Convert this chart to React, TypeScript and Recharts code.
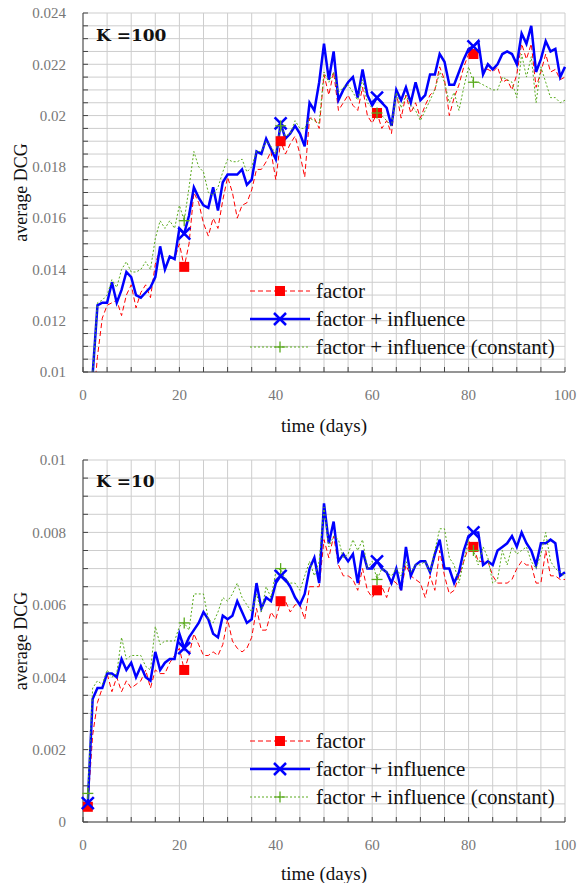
import React from 'react';
import { LineChart, Line, XAxis, YAxis, CartesianGrid, Legend } from 'recharts';

// K = 100 panel
const top100Factor = [
  0.0005, 0.0085, 0.0106, 0.0121, 0.0126, 0.0127, 0.0128, 0.0122, 0.0130, 0.0134,
  0.0125, 0.0131, 0.0134, 0.0129, 0.0142, 0.0148, 0.0140, 0.0145, 0.0144, 0.0150,
  0.0141, 0.0150, 0.0170, 0.0166, 0.0158, 0.0153, 0.0160, 0.0156, 0.0167, 0.0176,
  0.0170, 0.0160, 0.0165, 0.0166, 0.0171, 0.0179, 0.0179, 0.0182, 0.0186, 0.0175,
  0.0190, 0.0185, 0.0189, 0.0192, 0.0185, 0.0176, 0.0199, 0.0199, 0.0195, 0.0216,
  0.0208, 0.0217, 0.0202, 0.0205, 0.0208, 0.0204, 0.0202, 0.0211, 0.0200, 0.0197,
  0.0201, 0.0195, 0.0198, 0.0193, 0.0209, 0.0199, 0.0208, 0.0201, 0.0205, 0.0199,
  0.0204, 0.0208, 0.0210, 0.0219, 0.0214, 0.0200, 0.0207, 0.0212, 0.0219, 0.0224,
  0.0224, 0.0226, 0.0218, 0.0218, 0.0217, 0.0219, 0.0213, 0.0214, 0.0210, 0.0216,
  0.0228, 0.0222, 0.0228, 0.0211, 0.0217, 0.0224, 0.0217, 0.0218, 0.0214, 0.0215,
];
const top100Influence = [
  0.0005, 0.0099, 0.0126, 0.0127, 0.0127, 0.0135, 0.0127, 0.0132, 0.0139, 0.0137,
  0.0130, 0.0129, 0.0131, 0.0133, 0.0137, 0.0149, 0.0140, 0.0145, 0.0144, 0.0156,
  0.0154, 0.0161, 0.0172, 0.0168, 0.0165, 0.0164, 0.0172, 0.0163, 0.0174, 0.0177,
  0.0177, 0.0177, 0.0179, 0.0173, 0.0175, 0.0186, 0.0185, 0.0191, 0.0187, 0.0183,
  0.0197, 0.0191, 0.0193, 0.0196, 0.0193, 0.0188, 0.0205, 0.0202, 0.0213, 0.0228,
  0.0214, 0.0225, 0.0206, 0.0210, 0.0213, 0.0215, 0.0207, 0.0218, 0.0208, 0.0204,
  0.0207, 0.0205, 0.0203, 0.0196, 0.0210, 0.0206, 0.0211, 0.0205, 0.0213, 0.0206,
  0.0208, 0.0216, 0.0216, 0.0224, 0.0221, 0.0212, 0.0212, 0.0217, 0.0222, 0.0226,
  0.0227, 0.0229, 0.0216, 0.0220, 0.0218, 0.0220, 0.0224, 0.0225, 0.0224, 0.0220,
  0.0232, 0.0228, 0.0235, 0.0217, 0.0222, 0.0229, 0.0225, 0.0226, 0.0215, 0.0219,
];
const top100Constant = [
  0.0005, 0.0099, 0.0127, 0.0128, 0.0130, 0.0136, 0.0133, 0.0140, 0.0143, 0.0139,
  0.0139, 0.0140, 0.0143, 0.0140, 0.0152, 0.0159, 0.0156, 0.0159, 0.0156, 0.0165,
  0.0159, 0.0172, 0.0186, 0.0180, 0.0178, 0.0170, 0.0169, 0.0172, 0.0178, 0.0183,
  0.0182, 0.0182, 0.0183, 0.0178, 0.0180, 0.0186, 0.0186, 0.0190, 0.0188, 0.0185,
  0.0196, 0.0192, 0.0193, 0.0198, 0.0195, 0.0195, 0.0199, 0.0198, 0.0197, 0.0217,
  0.0213, 0.0217, 0.0209, 0.0211, 0.0212, 0.0209, 0.0206, 0.0214, 0.0205, 0.0203,
  0.0201, 0.0200, 0.0198, 0.0196, 0.0209, 0.0203, 0.0208, 0.0204, 0.0202, 0.0198,
  0.0202, 0.0206, 0.0210, 0.0217, 0.0213, 0.0205, 0.0209, 0.0202, 0.0211, 0.0219,
  0.0213, 0.0213, 0.0212, 0.0211, 0.0210, 0.0210, 0.0215, 0.0214, 0.0213, 0.0207,
  0.0224, 0.0215, 0.0223, 0.0205, 0.0219, 0.0213, 0.0207, 0.0207, 0.0205, 0.0206,
];

// K = 10 panel
const top10Factor = [
  0.00042, 0.0024, 0.0033, 0.0037, 0.0041, 0.0036, 0.0040, 0.0036, 0.0039, 0.0037,
  0.0038, 0.0039, 0.0042, 0.0037, 0.0042, 0.0041, 0.0041, 0.0044, 0.0046, 0.0048,
  0.0042, 0.0046, 0.0052, 0.0049, 0.0046, 0.0046, 0.0047, 0.0046, 0.0049, 0.0056,
  0.0050, 0.0048, 0.0047, 0.0048, 0.0051, 0.0059, 0.0053, 0.0053, 0.0058, 0.0056,
  0.0061, 0.0061, 0.0058, 0.0060, 0.0060, 0.0056, 0.0065, 0.0065, 0.0065, 0.0078,
  0.0073, 0.0079, 0.0071, 0.0068, 0.0068, 0.0067, 0.0064, 0.0070, 0.0064, 0.0062,
  0.0064, 0.0065, 0.0062, 0.0067, 0.0066, 0.0064, 0.0071, 0.0068, 0.0067, 0.0066,
  0.0062, 0.0068, 0.0064, 0.0075, 0.0068, 0.0063, 0.0064, 0.0068, 0.0072, 0.0076,
  0.0076, 0.0072, 0.0072, 0.0072, 0.0068, 0.0066, 0.0066, 0.0066, 0.0067, 0.0070,
  0.0072, 0.0071, 0.0071, 0.0066, 0.0066, 0.0075, 0.0068, 0.0068, 0.0067, 0.0067,
];
const top10Influence = [
  0.00052, 0.0034, 0.0037, 0.0037, 0.0041, 0.0041, 0.0040, 0.0045, 0.0042, 0.0044,
  0.0040, 0.0043, 0.0040, 0.0039, 0.0047, 0.0042, 0.0044, 0.0045, 0.0045, 0.0052,
  0.0048, 0.0051, 0.0053, 0.0055, 0.0058, 0.0056, 0.0052, 0.0051, 0.0057, 0.0056,
  0.0057, 0.0061, 0.0058, 0.0055, 0.0056, 0.0066, 0.0059, 0.0062, 0.0061, 0.0066,
  0.0068, 0.0067, 0.0065, 0.0062, 0.0060, 0.0063, 0.0070, 0.0073, 0.0066, 0.0088,
  0.0077, 0.0083, 0.0072, 0.0074, 0.0072, 0.0074, 0.0066, 0.0075, 0.0070, 0.0070,
  0.0072, 0.0070, 0.0069, 0.0066, 0.0070, 0.0064, 0.0076, 0.0068, 0.0071, 0.0072,
  0.0072, 0.0069, 0.0074, 0.0078, 0.0070, 0.0070, 0.0066, 0.0069, 0.0075, 0.0079,
  0.0080, 0.0080, 0.0071, 0.0072, 0.0071, 0.0075, 0.0076, 0.0077, 0.0079, 0.0076,
  0.0080, 0.0077, 0.0075, 0.0071, 0.0077, 0.0077, 0.0078, 0.0077, 0.0068, 0.0069,
];
const top10Constant = [
  0.00079, 0.0037, 0.0039, 0.0038, 0.0042, 0.0040, 0.0041, 0.0051, 0.0045, 0.0046,
  0.0046, 0.0046, 0.0043, 0.0042, 0.0054, 0.0049, 0.0050, 0.0050, 0.0050, 0.0054,
  0.0055, 0.0053, 0.0063, 0.0063, 0.0063, 0.0056, 0.0055, 0.0058, 0.0062, 0.0061,
  0.0063, 0.0066, 0.0062, 0.0060, 0.0058, 0.0063, 0.0058, 0.0065, 0.0062, 0.0069,
  0.0070, 0.0067, 0.0066, 0.0066, 0.0064, 0.0068, 0.0072, 0.0068, 0.0072, 0.0087,
  0.0076, 0.0079, 0.0078, 0.0073, 0.0074, 0.0078, 0.0075, 0.0078, 0.0070, 0.0072,
  0.0067, 0.0070, 0.0069, 0.0068, 0.0070, 0.0068, 0.0072, 0.0069, 0.0071, 0.0071,
  0.0072, 0.0069, 0.0075, 0.0081, 0.0081, 0.0073, 0.0071, 0.0066, 0.0072, 0.0078,
  0.0075, 0.0071, 0.0076, 0.0073, 0.0066, 0.0067, 0.0075, 0.0071, 0.0076, 0.0074,
  0.0075, 0.0076, 0.0072, 0.0070, 0.0074, 0.0080, 0.0072, 0.0070, 0.0069, 0.0068,
];

const markerDays = [1, 21, 41, 61, 81];
const xTicks = [0, 5, 10, 15, 20, 25, 30, 35, 40, 45, 50, 55, 60, 65, 70, 75, 80, 85, 90, 95, 100];
const yTicksTop = [
  0.01, 0.0105, 0.011, 0.0115, 0.012, 0.0125, 0.013, 0.0135, 0.014, 0.0145, 0.015, 0.0155,
  0.016, 0.0165, 0.017, 0.0175, 0.018, 0.0185, 0.019, 0.0195, 0.02, 0.0205, 0.021, 0.0215,
  0.022, 0.0225, 0.023, 0.0235, 0.024,
];
const yTicksBottom = [
  0, 0.0005, 0.001, 0.0015, 0.002, 0.0025, 0.003, 0.0035, 0.004, 0.0045, 0.005,
  0.0055, 0.006, 0.0065, 0.007, 0.0075, 0.008, 0.0085, 0.009, 0.0095, 0.01,
];

const RED = '#ff0000';
const BLUE = '#0000ff';
const GREEN = '#5aab1e';
const SERIF = "'Times New Roman', 'Liberation Serif', Times, serif";

const series = [
  { key: 'factor', name: 'factor', color: RED, width: 1, dash: '5 3', marker: 'square' },
  { key: 'influence', name: 'factor + influence', color: BLUE, width: 2.5, dash: undefined, marker: 'cross' },
  { key: 'constant', name: 'factor + influence (constant)', color: GREEN, width: 1, dash: '2 2', marker: 'plus' },
];

const buildRows = (a: number[], b: number[], c: number[]) =>
  a.map((v, i) => ({ day: i + 1, factor: v, influence: b[i], constant: c[i] }));

const rowsK100 = buildRows(top100Factor, top100Influence, top100Constant);
const rowsK10 = buildRows(top10Factor, top10Influence, top10Constant);

const MarkerShape = ({ kind, cx, cy, color }: { kind: string; cx: number; cy: number; color: string }) => {
    if (kind === 'square') return <rect x={cx - 5} y={cy - 5} width={10} height={10} fill={color} />;
    if (kind === 'cross') {
        return (
            <g stroke={color} strokeWidth={2.5}>
                <line x1={cx - 6} y1={cy - 6} x2={cx + 6} y2={cy + 6} />
                <line x1={cx - 6} y1={cy + 6} x2={cx + 6} y2={cy - 6} />
            </g>
        );
    }
    return (
        <g stroke={color} strokeWidth={1.3}>
            <line x1={cx - 5.5} y1={cy} x2={cx + 5.5} y2={cy} />
            <line x1={cx} y1={cy - 5.5} x2={cx} y2={cy + 5.5} />
        </g>
    );
};

const makeDot = (kind: string, color: string) => (props: any) => {
    const { cx, cy, payload, index } = props;
    if (cx == null || cy == null || !markerDays.includes(payload.day)) return <g key={`e${index}`} />;
    return <g key={`m${index}`}><MarkerShape kind={kind} cx={cx} cy={cy} color={color} /></g>;
};

const LegendBox = () => (
    <div style={{ fontFamily: SERIF, fontSize: 21, color: '#111' }}>
        {series.map(s => (
            <div key={s.key} style={{ display: 'flex', alignItems: 'center', height: 28 }}>
                <svg width={66} height={28} style={{ display: 'block' }}>
                    <line x1={2} y1={14} x2={62} y2={14} stroke={s.color} strokeWidth={s.width} strokeDasharray={s.dash} />
                    <MarkerShape kind={s.marker} cx={32} cy={14} color={s.color} />
                </svg>
                <span style={{ marginLeft: 2, lineHeight: '28px', whiteSpace: 'nowrap' }}>{s.name}</span>
            </div>
        ))}
    </div>
);

const fmtX = (v: number) => (v % 20 === 0 ? String(v) : '');
const fmtY = (v: number) => {
    const k = v * 1000 / 2;
    return Math.abs(k - Math.round(k)) < 1e-6 ? String(Number(v.toFixed(3))) : '';
};

const tickStyle = { fontFamily: SERIF, fontSize: 15, fill: '#777' };
const AXIS = '#444';

interface PanelProps {
    data: any[];
    yDomain: [number, number];
    yTicks: number[];
    height: number;
    margin: { top: number; right: number; bottom: number; left: number };
    legendTop: number;
    xLabelDy: number;
}

const Panel: React.FC<PanelProps> = ({ data, yDomain, yTicks, height, margin, legendTop, xLabelDy }) => (
    <LineChart width={586} height={height} data={data} margin={margin} style={{ fontFamily: SERIF }}>
        <CartesianGrid stroke="#cdcdcd" strokeWidth={1} />
        <XAxis
            dataKey="day"
            type="number"
            domain={[0, 100]}
            ticks={xTicks}
            interval={0}
            tickFormatter={fmtX}
            tick={tickStyle}
            tickSize={-5}
            tickMargin={22}
            stroke={AXIS}
            height={50}
            label={{ value: 'time (days)', position: 'center', dy: xLabelDy, style: { fontFamily: SERIF, fontSize: 19, fill: '#111' } }}
        />
        <XAxis xAxisId="top" orientation="top" dataKey="day" type="number" domain={[0, 100]} ticks={xTicks}
            interval={0} tickFormatter={() => ''} tickSize={-5} stroke={AXIS} height={0} />
        <YAxis
            type="number"
            domain={yDomain}
            allowDataOverflow
            ticks={yTicks}
            interval={0}
            tickFormatter={fmtY}
            tick={tickStyle}
            tickSize={-5}
            tickMargin={22}
            stroke={AXIS}
            width={83}
            label={{ value: 'average DCG', angle: -90, position: 'center', dx: -21, style: { fontFamily: SERIF, fontSize: 18, fill: '#111' } }}
        />
        <YAxis yAxisId="right" orientation="right" type="number" domain={yDomain} allowDataOverflow ticks={yTicks}
            interval={0} tickFormatter={() => ''} tickSize={-5} stroke={AXIS} width={0} />
        {series.map(s => (
            <Line
                key={s.key}
                dataKey={s.key}
                name={s.name}
                type="linear"
                stroke={s.color}
                strokeWidth={s.width}
                strokeDasharray={s.dash}
                dot={makeDot(s.marker, s.color)}
                activeDot={false}
                isAnimationActive={false}
            />
        ))}
        <Legend
            layout="vertical"
            align="center"
            verticalAlign="middle"
            content={() => <LegendBox />}
            wrapperStyle={{ left: 248, top: legendTop, width: 330 }}
        />
    </LineChart>
);

const titleStyle: React.CSSProperties = {
    position: 'absolute',
    left: 96,
    fontFamily: "'DejaVu Serif', serif",
    fontWeight: 'bold',
    fontSize: 17,
    lineHeight: '17px',
    color: '#111',
};

const App: React.FC = () => (
    <div style={{ position: 'absolute', left: 0, top: 0, width: 586, height: 883, background: '#fff' }}>
        <div style={{ position: 'absolute', left: 0, top: 0 }}>
            <Panel
                data={rowsK100}
                yDomain={[0.01, 0.024]}
                yTicks={yTicksTop}
                height={440}
                margin={{ top: 13, right: 21, bottom: 18, left: 0 }}
                legendTop={277}
                xLabelDy={28}
            />
        </div>
        <div style={{ position: 'absolute', left: 0, top: 440 }}>
            <Panel
                data={rowsK10}
                yDomain={[0, 0.01]}
                yTicks={yTicksBottom}
                height={443}
                margin={{ top: 20, right: 21, bottom: 11, left: 0 }}
                legendTop={287}
                xLabelDy={26}
            />
        </div>
        <div style={{ ...titleStyle, top: 27 }}>K =100</div>
        <div style={{ ...titleStyle, top: 473 }}>K =10</div>
    </div>
);

export default App;
